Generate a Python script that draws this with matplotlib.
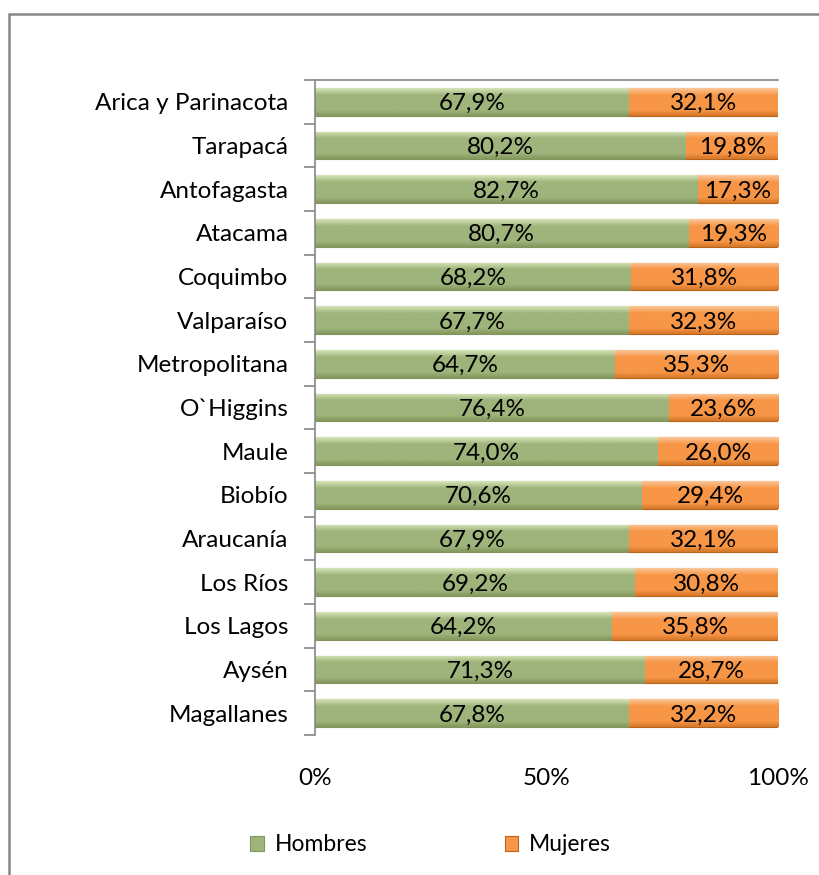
import matplotlib.pyplot as plt
import matplotlib.patches as mpatches
from matplotlib.colors import LinearSegmentedColormap
import numpy as np

# data
regiones = ['Arica y Parinacota', 'Tarapacá', 'Antofagasta', 'Atacama', 'Coquimbo',
            'Valparaíso', 'Metropolitana', 'O`Higgins', 'Maule', 'Biobío',
            'Araucanía', 'Los Ríos', 'Los Lagos', 'Aysén', 'Magallanes']
hombres = [67.9, 80.2, 82.7, 80.7, 68.2, 67.7, 64.7, 76.4, 74.0, 70.6, 67.9, 69.2, 64.2, 71.3, 67.8]
mujeres = [32.1, 19.8, 17.3, 19.3, 31.8, 32.3, 35.3, 23.6, 26.0, 29.4, 32.1, 30.8, 35.8, 28.7, 32.2]
xticks = [0, 50, 100]
xticklabels = ['0%', '50%', '100%']

plt.rcParams['font.family'] = ['Lato', 'DejaVu Sans']
fs = 17.5

verde = '#9EB47B'
naranja = '#F79646'

fig = plt.figure(figsize=(8.2, 8.75), dpi=100)
ax = fig.add_axes([0.384, 0.16, 0.565, 0.7486])

y = np.arange(len(regiones))
b1 = ax.barh(y, hombres, height=0.64, color=verde, edgecolor='#80965C', linewidth=0.8, label='Hombres')
b2 = ax.barh(y, mujeres, left=hombres, height=0.64, color=naranja, edgecolor='#B8621A', linewidth=0.8, label='Mujeres')

# gradient to fake the bevel look
def shade(bars, light, base, dark):
    cmap = LinearSegmentedColormap.from_list('g', [(0, light), (0.25, base), (0.8, base), (1, dark)])
    grad = np.linspace(0, 1, 50).reshape(-1, 1)
    for p in bars:
        x0, y0 = p.get_x(), p.get_y()
        w, h = p.get_width(), p.get_height()
        im = ax.imshow(grad, cmap=cmap, extent=(x0, x0 + w, y0 + h, y0), aspect='auto',
                       origin='upper', zorder=p.get_zorder())
        im.set_clip_path(p)

shade(b1, '#D6E4B6', verde, '#85995F')
shade(b2, '#FBC597', naranja, '#D6782A')

for i in range(len(regiones)):
    ax.text(hombres[i] / 2, y[i] + 0.04, f'{hombres[i]:.1f}%'.replace('.', ','),
            ha='center', va='center', fontsize=fs, color='black', zorder=5)
    ax.text(hombres[i] + mujeres[i] / 2, y[i] + 0.04, f'{mujeres[i]:.1f}%'.replace('.', ','),
            ha='center', va='center', fontsize=fs, color='black', zorder=5)

ax.set_xlim(0, 100)
ax.set_ylim(len(regiones) - 0.5, -0.5)

# category labels at centers, tick marks at boundaries
ax.set_yticks(np.arange(-0.5, len(regiones), 1))
ax.set_yticklabels([])
ax.set_yticks(y, minor=True)
ax.set_yticklabels(regiones, minor=True, fontsize=fs)
ax.tick_params(axis='y', which='major', length=8, width=1.2, color='#868686', direction='out')
ax.tick_params(axis='y', which='minor', length=0, pad=19)

ax.set_xticks(xticks)
ax.set_xticklabels(xticklabels, fontsize=fs)
ax.tick_params(axis='x', length=0, pad=24)

for s in ['right', 'bottom']:
    ax.spines[s].set_visible(False)
ax.spines['left'].set_color('#868686')
ax.spines['top'].set_color('#868686')
ax.spines['left'].set_linewidth(1.2)
ax.spines['top'].set_linewidth(1.2)

fig.legend(handles=[b1, b2], loc='center', bbox_to_anchor=(0.525, 0.0343), ncol=2,
           frameon=False, fontsize=16.5, handlelength=0.6, handleheight=0.6,
           handletextpad=0.45, columnspacing=6.0)

# outer chart frame (cut off at the right and bottom)
top = 1 - 14 / 875
frame = mpatches.Rectangle((9 / 820, -0.2), 1.2, top + 0.2, transform=fig.transFigure,
                           fill=False, edgecolor='#868686', linewidth=1.8)
fig.patches.append(frame)

plt.savefig('out.png', dpi=100)
